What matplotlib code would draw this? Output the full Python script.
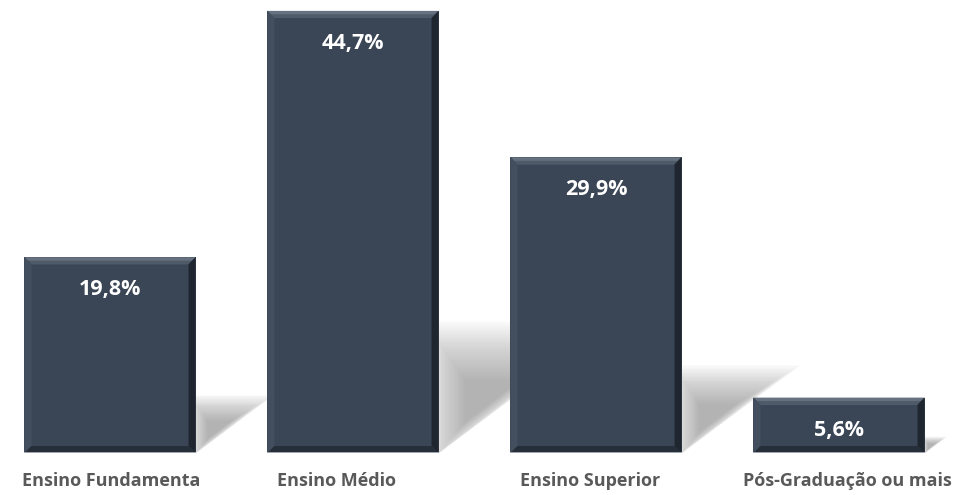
import matplotlib.pyplot as plt
import numpy as np
from matplotlib.patches import Polygon

categorias = ["Ensino Fundamenta", "Ensino Médio", "Ensino Superior", "Pós-Graduação ou mais"]
valores = [19.8, 44.7, 29.9, 5.6]
rotulos = ["19,8%", "44,7%", "29,9%", "5,6%"]

plt.rcParams['font.family'] = ['Open Sans', 'DejaVu Sans']

W, H = 958, 495
fig = plt.figure(figsize=(W / 100, H / 100), dpi=100)
ax = fig.add_axes([0, 42 / H, 1, 453 / H])
ax.set_xlim(-0.4527, 3.4897)
ax.set_ylim(0, 45.8)
ax.axis('off')

px_x = 243.0   # pixels per x unit
px_y = 9.89    # pixels per y unit
largura = 0.704
cor = '#3a4556'
x = np.arange(len(valores))

# sombras (suaves)
for xi, v in zip(x, valores):
    xr = xi + largura / 2
    hs = v * 0.25
    L = 1.3 * hs * px_y / px_x
    n = 30
    cx, cy = xr + L * 0.3, hs * 0.45
    base = np.array([[xr, 0], [xr, hs], [xr + L, hs]])
    for k in range(n):
        s = 1.35 - 1.0 * k / n
        pts = np.column_stack([cx + (base[:, 0] - cx) * s, cy + (base[:, 1] - cy) * s])
        pts[:, 0] = np.maximum(pts[:, 0], xr)
        pts[:, 1] = np.maximum(pts[:, 1], 0)
        ax.add_patch(Polygon(pts, closed=True, facecolor='#8c8c8c', edgecolor='none',
                             alpha=0.028, zorder=1))

# barras com bisel
bx = 7 / px_x
by = 7 / px_y
for xi, v in zip(x, valores):
    x0, x1 = xi - largura / 2, xi + largura / 2
    ax.bar(xi, v, width=largura, color=cor, zorder=2)
    ax.add_patch(Polygon([[x0, v], [x1, v], [x1 - bx, v - by], [x0 + bx, v - by]],
                         facecolor='#66717f', edgecolor='none', zorder=3))
    ax.add_patch(Polygon([[x0 + bx * 0.5, v - by * 0.5], [x1 - bx * 0.5, v - by * 0.5],
                          [x1 - bx, v - by], [x0 + bx, v - by]],
                         facecolor='#4f5a69', edgecolor='none', zorder=3))
    ax.add_patch(Polygon([[x0, v], [x0 + bx, v - by], [x0 + bx, by], [x0, 0]],
                         facecolor='#434e5e', edgecolor='none', zorder=3))
    ax.add_patch(Polygon([[x1, v], [x1 - bx, v - by], [x1 - bx, by], [x1, 0]],
                         facecolor='#1f262f', edgecolor='none', zorder=3))
    ax.add_patch(Polygon([[x0, 0], [x1, 0], [x1 - bx, by], [x0 + bx, by]],
                         facecolor='#262e39', edgecolor='none', zorder=3))
    ax.plot([x0, x1], [0, 0], color='#b9bec5', lw=1.2, zorder=4, solid_capstyle='butt')

for xi, v, r in zip(x, valores, rotulos):
    ax.annotate(r, (xi, v), xytext=(0, -23.5), textcoords='offset points',
                ha='center', va='center', color='white', fontsize=15.5,
                fontweight='bold', zorder=5)

desloc = [1, -17, -6, 8]
for xi, c, d in zip(x, categorias, desloc):
    ax.annotate(c, (xi, 0), xytext=(d * 0.72, -20.5), textcoords='offset points',
                ha='center', va='center', color='#595959', fontsize=13,
                fontweight='bold', annotation_clip=False)

fig.savefig('out.png', dpi=100)
